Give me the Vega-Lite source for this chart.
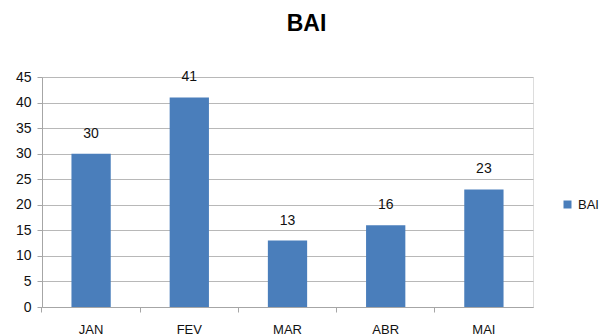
{
  "$schema": "https://vega.github.io/schema/vega-lite/v6.json",
  "autosize": "none",
  "width": 491,
  "height": 230,
  "padding": {"left": 42, "top": 77, "right": 68, "bottom": 29},
  "background": "white",
  "title": {"text": "BAI", "fontSize": 23, "font": "Liberation Sans", "fontWeight": "bold", "color": "#000000", "anchor": "middle", "dx": 19, "offset": 34},
  "data": {"values": [
    {"mes": "JAN", "valor": 30},
    {"mes": "FEV", "valor": 41},
    {"mes": "MAR", "valor": 13},
    {"mes": "ABR", "valor": 16},
    {"mes": "MAI", "valor": 23}
  ]},
  "encoding": {
    "x": {"field": "mes", "type": "nominal", "sort": null,
      "scale": {"paddingInner": 0.6, "paddingOuter": 0.3},
      "axis": {"title": null, "labelAngle": 0, "labelFont": "Liberation Sans", "labelFontSize": 13, "labelColor": "#111111", "labelPadding": 11, "domainColor": "#a6a6a6", "tickColor": "#a6a6a6", "tickSize": 5, "bandPosition": -0.75, "grid": false}},
    "y": {"field": "valor", "type": "quantitative",
      "scale": {"domain": [0, 45]},
      "axis": {"title": null, "values": [0,5,10,15,20,25,30,35,40,45], "labelFont": "Liberation Sans", "labelFontSize": 14, "labelColor": "#111111", "labelPadding": 6, "domainColor": "#a6a6a6", "tickColor": "#a6a6a6", "tickSize": 5, "gridColor": "#b8b8b8", "gridWidth": 1}}
  },
  "layer": [
    {"mark": {"type": "bar"},
     "encoding": {"color": {"datum": "BAI", "type": "nominal", "scale": {"range": ["#4a7ebb"]},
       "legend": {"title": null, "orient": "none", "legendX": 519, "legendY": 121, "symbolType": "square", "symbolSize": 64, "labelFont": "Liberation Sans", "labelFontSize": 13, "labelColor": "#111111", "symbolStrokeWidth": 0}}}},
    {"mark": {"type": "text", "dy": -13, "baseline": "bottom", "font": "Liberation Sans", "fontSize": 14, "color": "#111111"},
     "encoding": {"text": {"field": "valor", "type": "quantitative"}}}
  ]
}
